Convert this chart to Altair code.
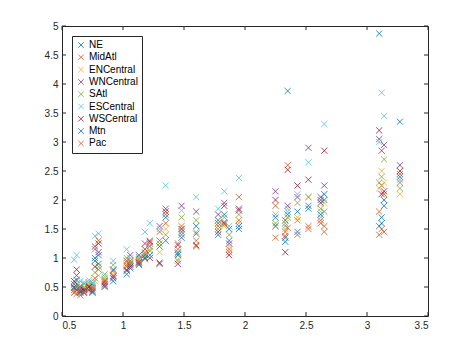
import altair as alt
import pandas as pd

regions = ["NE", "MidAtl", "ENCentral", "WNCentral", "SAtl", "ESCentral", "WSCentral", "Mtn", "Pac"]
colors = ["#0072BD", "#D95319", "#EDB120", "#7E2F8E", "#77AC30", "#4DBEEE", "#A2142F", "#0072BD", "#D95319"]

wtd_ili = [0.60, 0.62, 0.65, 0.68, 0.72, 0.75, 0.77, 0.80, 0.85, 0.92, 1.03, 1.06, 1.13, 1.18,
           1.22, 1.30, 1.35, 1.45, 1.48, 1.60, 1.78, 1.83, 1.87, 1.95, 2.25, 2.33, 2.35, 2.43,
           2.52, 2.62, 2.65, 3.10, 3.12, 3.14, 3.27]

NE        = [0.55, 0.62, 0.50, 0.48, 0.52, 0.55, 1.00, 0.90, 0.60, 0.80, 0.80, 0.88, 0.90, 1.05,
             1.20, 1.20, 1.70, 1.05, 1.45, 1.55, 1.65, 1.75, 1.30, 1.50, 1.70, 1.35, 3.88, 1.80,
             1.85, 1.75, 2.00, 4.87, 1.60, 2.00, 3.35]
MidAtl    = [0.45, 0.50, 0.48, 0.45, 0.46, 0.50, 1.15, 1.30, 0.58, 0.70, 0.85, 0.90, 0.95, 0.98,
             1.30, 1.45, 1.75, 1.15, 1.55, 1.30, 1.55, 1.62, 1.15, 2.05, 1.90, 1.45, 2.60, 1.65,
             1.55, 1.65, 1.55, 1.80, 2.25, 2.10, 2.45]
ENCentral = [0.42, 0.45, 0.44, 0.50, 0.55, 0.48, 0.60, 0.70, 0.65, 0.75, 0.92, 0.95, 1.00, 1.10,
             1.15, 1.10, 1.50, 0.98, 1.50, 1.45, 1.60, 1.55, 1.20, 1.60, 1.55, 1.50, 1.85, 1.70,
             2.05, 1.80, 1.95, 2.20, 2.50, 2.30, 2.10]
WNCentral = [0.48, 0.70, 0.45, 0.42, 0.50, 0.45, 1.20, 1.10, 0.50, 0.68, 0.95, 1.05, 1.05, 1.25,
             1.28, 1.55, 1.85, 1.22, 1.90, 1.80, 1.75, 1.95, 1.25, 1.85, 2.15, 1.65, 1.90, 2.05,
             2.90, 2.05, 2.25, 3.05, 2.85, 2.95, 2.60]
SAtl      = [0.50, 0.55, 0.52, 0.55, 0.58, 0.52, 0.75, 0.85, 0.72, 0.88, 1.00, 0.92, 0.98, 1.02,
             1.12, 1.25, 1.40, 1.10, 1.70, 1.65, 1.50, 1.70, 1.40, 1.75, 1.60, 1.60, 1.70, 1.95,
             2.05, 1.85, 1.80, 2.30, 2.40, 2.70, 2.20]
ESCentral = [0.97, 1.05, 0.60, 0.58, 0.62, 0.58, 1.38, 1.42, 0.68, 0.95, 1.15, 1.00, 1.02, 1.45,
             1.60, 1.50, 2.25, 0.95, 1.82, 2.05, 1.85, 2.15, 1.55, 2.38, 1.75, 1.55, 1.80, 2.10,
             2.65, 1.70, 3.31, 3.00, 3.85, 3.45, 2.35]
WSCentral = [0.60, 0.80, 0.42, 0.45, 0.50, 0.42, 0.85, 1.25, 0.55, 0.65, 0.78, 0.85, 0.92, 1.15,
             1.00, 0.90, 1.80, 0.90, 1.50, 1.22, 1.45, 1.90, 1.05, 1.82, 2.00, 1.10, 2.52, 2.25,
             2.35, 1.95, 2.85, 3.20, 2.10, 2.15, 2.50]
Mtn       = [0.50, 0.45, 0.40, 0.40, 0.45, 0.40, 0.95, 1.05, 0.52, 0.60, 0.72, 0.82, 0.88, 1.00,
             1.05, 0.92, 1.30, 1.08, 1.35, 1.42, 1.40, 1.60, 1.50, 1.55, 1.55, 1.28, 1.75, 1.45,
             1.90, 2.00, 2.10, 1.55, 1.70, 1.90, 2.40]
Pac       = [0.40, 0.38, 0.36, 0.40, 0.44, 0.48, 0.65, 0.80, 0.62, 0.78, 0.88, 0.95, 0.93, 1.08,
             1.25, 1.30, 1.60, 1.25, 1.40, 1.20, 1.60, 1.58, 1.10, 1.65, 1.35, 1.38, 1.52, 1.40,
             1.50, 1.60, 1.45, 1.40, 1.50, 1.45, 2.30]

x_ticks = [0.5, 1.0, 1.5, 2.0, 2.5, 3.0, 3.5]
y_ticks = [0, 0.5, 1, 1.5, 2, 2.5, 3, 3.5, 4, 4.5, 5]

series = [NE, MidAtl, ENCentral, WNCentral, SAtl, ESCentral, WSCentral, Mtn, Pac]
rows = []
for name, vals in zip(regions, series):
    for xv, yv in zip(wtd_ili, vals):
        rows.append({"x": xv, "y": yv, "region": name})
df = pd.DataFrame(rows)

W, H = 366, 290
xscale = alt.Scale(domain=[0.5, 3.5], nice=False, zero=False)
yscale = alt.Scale(domain=[0, 5], nice=False, zero=False)
xaxis = alt.Axis(values=x_ticks, format="~g", ticks=False, domain=False, grid=False, title=None,
                 labelPadding=4, labelFontSize=10, labelColor="#262626", labelFont="Liberation Sans")
yaxis = alt.Axis(values=y_ticks, format="~g", ticks=False, domain=False, grid=False, title=None,
                 labelPadding=4, labelFontSize=10, labelColor="#262626", labelFont="Liberation Sans")

xshape = "M-1,-1L1,1M-1,1L1,-1"

points = alt.Chart(df).mark_point(shape=xshape, filled=False, size=38, strokeWidth=0.8, opacity=1).encode(
    x=alt.X("x:Q", scale=xscale, axis=xaxis),
    y=alt.Y("y:Q", scale=yscale, axis=yaxis),
    color=alt.Color("region:N", scale=alt.Scale(domain=regions, range=colors), sort=regions,
                    legend=alt.Legend(title=None, orient="none", legendX=10, legendY=10,
                                      strokeColor="#262626", fillColor="white", padding=4,
                                      labelFontSize=10, labelFont="Liberation Sans", labelColor="#000000",
                                      symbolType=xshape, symbolSize=30, symbolStrokeWidth=0.8,
                                      symbolFillColor="transparent",
                                      rowPadding=2.3, labelOffset=3, cornerRadius=0)),
)

xt = pd.DataFrame({"t": x_ticks})
yt = pd.DataFrame({"t": y_ticks})
tick_style = dict(color="#262626", strokeWidth=1)
bottom_ticks = alt.Chart(xt).mark_rule(**tick_style).encode(
    x=alt.X("t:Q", scale=xscale, axis=xaxis), y=alt.value(H), y2=alt.value(H - 4))
top_ticks = alt.Chart(xt).mark_rule(**tick_style).encode(
    x=alt.X("t:Q", scale=xscale, axis=xaxis), y=alt.value(0), y2=alt.value(4))
left_ticks = alt.Chart(yt).mark_rule(**tick_style).encode(
    y=alt.Y("t:Q", scale=yscale, axis=yaxis), x=alt.value(0), x2=alt.value(4))
right_ticks = alt.Chart(yt).mark_rule(**tick_style).encode(
    y=alt.Y("t:Q", scale=yscale, axis=yaxis), x=alt.value(W), x2=alt.value(W - 4))

chart = alt.layer(points, bottom_ticks, top_ticks, left_ticks, right_ticks).properties(
    width=W, height=H,
    padding={"left": 62, "top": 26, "right": 46, "bottom": 39},
    autosize=alt.AutoSizeParams(type="none"),
    background="white",
).configure_view(stroke="#262626", strokeWidth=1)

chart.save("out.html", embed_options={"renderer": "svg", "actions": False})
